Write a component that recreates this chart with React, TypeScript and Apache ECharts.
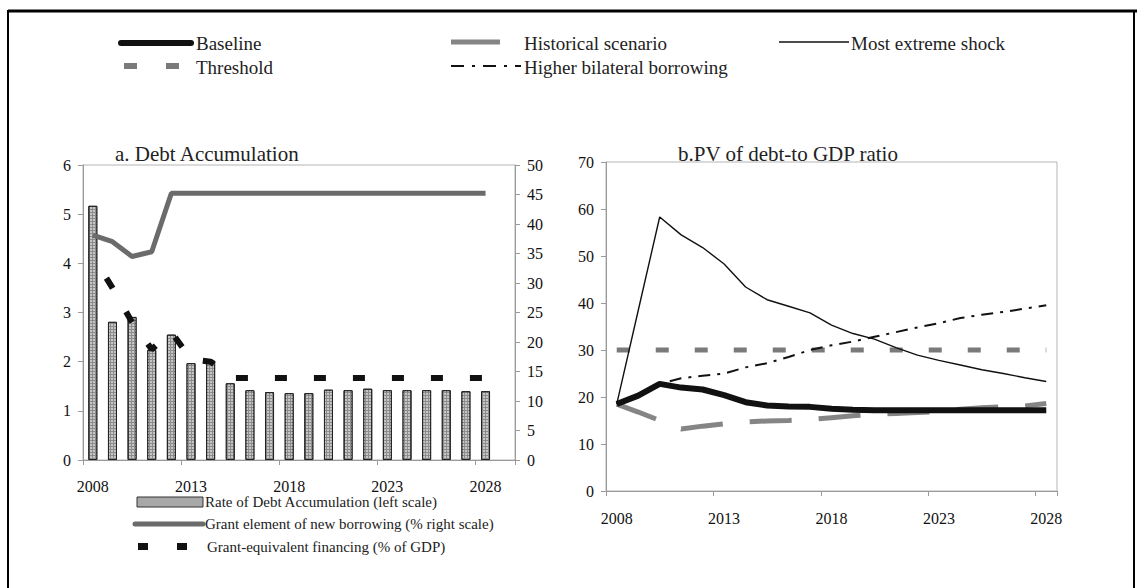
import React, { useEffect, useRef } from 'react';
import * as echarts from 'echarts';

// ---- data ----
const years = [
  '2008', '2009', '2010', '2011', '2012', '2013', '2014', '2015', '2016', '2017', '2018',
  '2019', '2020', '2021', '2022', '2023', '2024', '2025', '2026', '2027', '2028',
];
// panel a keeps one empty slot after the last year
const debtYears = [...years, ''];

// panel a: rate of debt accumulation (left scale, %)
const debtAccumulation = [
  5.17, 2.81, 2.91, 2.24, 2.55, 1.97, 2.02, 1.56, 1.42, 1.38, 1.36,
  1.36, 1.43, 1.42, 1.45, 1.42, 1.42, 1.42, 1.42, 1.40, 1.40,
];
// panel a: grant element of new borrowing (right scale, %)
const grantElement = [
  38.1, 37.0, 34.5, 35.3, 45.2, 45.2, 45.2, 45.2, 45.2, 45.2, 45.2,
  45.2, 45.2, 45.2, 45.2, 45.2, 45.2, 45.2, 45.2, 45.2, 45.2,
];
// panel a: grant-equivalent financing (% of GDP, left scale)
const grantEquivalent = [
  4.15, 3.5, 2.8, 2.25, 2.6, 2.05, 2.0, 1.67, 1.67, 1.67, 1.67,
  1.67, 1.67, 1.67, 1.67, 1.67, 1.67, 1.67, 1.67, 1.67, 1.67,
];

// panel b: PV of debt-to-GDP ratio
const baseline = [
  18.5, 20.3, 22.8, 22.0, 21.6, 20.4, 18.9, 18.2, 18.0, 17.9, 17.5,
  17.3, 17.2, 17.2, 17.2, 17.2, 17.2, 17.2, 17.2, 17.2, 17.2,
];
const historical = [
  18.5, 16.8, 15.0, 13.2, 13.8, 14.3, 14.7, 14.9, 15.0, 15.2, 15.6,
  16.0, 16.3, 16.5, 16.7, 16.9, 17.4, 17.7, 17.9, 18.1, 18.6,
];
const extremeShock = [
  18.5, 38.4, 58.3, 54.5, 51.8, 48.3, 43.4, 40.7, 39.3, 37.9, 35.3,
  33.5, 32.3, 30.5, 28.9, 27.8, 26.8, 25.8, 25.0, 24.1, 23.3,
];
const bilateral = [
  18.5, 20.3, 22.8, 24.0, 24.5, 25.0, 26.3, 27.2, 28.5, 30.0, 31.0,
  31.8, 32.8, 33.8, 34.8, 35.7, 36.8, 37.5, 38.1, 38.8, 39.5,
];
const threshold = [
  30, 30, 30, 30, 30, 30, 30, 30, 30, 30, 30,
  30, 30, 30, 30, 30, 30, 30, 30, 30, 30,
];

const leftTicks = { min: 0, max: 6, interval: 1 };
const rightTicks = { min: 0, max: 50, interval: 5 };
const pvTicks = { min: 0, max: 70, interval: 10 };

const FONT = "'Liberation Serif', 'Times New Roman', serif";
const AXIS_GRAY = '#9a9a9a';

function App() {
  const ref = useRef<HTMLDivElement>(null);

  useEffect(() => {
    document.body.style.margin = '0';
    const chart = echarts.init(ref.current!, null, { renderer: 'svg' });

    const labelStyle = { color: '#111', fontFamily: FONT, fontSize: 16 };
    const axisLine = { show: true, lineStyle: { color: AXIS_GRAY, width: 1 } };
    const axisTick = { show: true, length: 5, lineStyle: { color: AXIS_GRAY } };

    const legendText = (x: number, y: number, text: string, size = 19) => ({
      type: 'text',
      x,
      y,
      style: {
        text,
        fill: '#222',
        fontFamily: FONT,
        fontSize: size,
        verticalAlign: 'middle',
      },
    });

    const titleStyle = { fontFamily: FONT, fontSize: 21, fontWeight: 'normal', color: '#222' };

    chart.setOption({
      animation: false,
      backgroundColor: '#fff',
      title: [
        { text: 'a. Debt Accumulation', left: 110, top: 138, textStyle: titleStyle },
        { text: 'b.PV of debt-to GDP ratio', left: 673, top: 138, textStyle: titleStyle },
      ],
      grid: [
        { left: 83, top: 165, width: 432, height: 295, show: true, borderColor: '#b5b5b5', borderWidth: 1 },
        { left: 606, top: 162, width: 451, height: 329, show: true, borderColor: '#b5b5b5', borderWidth: 1 },
      ],
      xAxis: [
        {
          type: 'category',
          gridIndex: 0,
          data: debtYears,
          boundaryGap: true,
          axisLine,
          axisTick: { ...axisTick, interval: 4 },
          axisLabel: { ...labelStyle, interval: 4, margin: 18 },
          splitLine: { show: false },
        },
        {
          type: 'category',
          gridIndex: 1,
          data: years,
          boundaryGap: true,
          axisLine,
          axisTick: { ...axisTick, interval: 4 },
          axisLabel: { ...labelStyle, interval: 4, margin: 19 },
          splitLine: { show: false },
        },
      ],
      yAxis: [
        {
          type: 'value',
          gridIndex: 0,
          position: 'left',
          ...leftTicks,
          axisLine,
          axisTick,
          axisLabel: { ...labelStyle, margin: 12 },
          splitLine: { show: false },
        },
        {
          type: 'value',
          gridIndex: 0,
          position: 'right',
          ...rightTicks,
          axisLine,
          axisTick,
          axisLabel: { ...labelStyle, margin: 12 },
          splitLine: { show: false },
        },
        {
          type: 'value',
          gridIndex: 1,
          position: 'left',
          ...pvTicks,
          axisLine,
          axisTick,
          axisLabel: { ...labelStyle, margin: 12 },
          splitLine: { show: false },
        },
      ],
      series: [
        {
          name: 'Rate of Debt Accumulation (left scale)',
          type: 'bar',
          xAxisIndex: 0,
          yAxisIndex: 0,
          data: debtAccumulation,
          barWidth: 9,
          itemStyle: {
            color: '#8c8c8c',
            borderColor: '#222',
            borderWidth: 1,
            decal: {
              symbol: 'circle',
              symbolSize: 0.8,
              color: 'rgba(235,235,235,0.95)',
              dashArrayX: [2, 1],
              dashArrayY: [2, 1],
              rotation: 0,
            },
          },
          z: 2,
        },
        {
          name: 'Grant element of new borrowing (% right scale)',
          type: 'line',
          xAxisIndex: 0,
          yAxisIndex: 1,
          data: grantElement,
          symbol: 'none',
          lineStyle: { color: '#6b6b6b', width: 5 },
          z: 4,
        },
        {
          name: 'Grant-equivalent financing (% of GDP)',
          type: 'line',
          xAxisIndex: 0,
          yAxisIndex: 0,
          data: grantEquivalent,
          symbol: 'none',
          lineStyle: { color: '#111', width: 6, type: [12, 27], dashOffset: 13 },
          z: 5,
        },
        {
          name: 'Threshold',
          type: 'line',
          xAxisIndex: 1,
          yAxisIndex: 2,
          data: threshold,
          symbol: 'none',
          lineStyle: { color: '#7a7a7a', width: 5, type: [13, 26] },
          z: 2,
        },
        {
          name: 'Historical scenario',
          type: 'line',
          xAxisIndex: 1,
          yAxisIndex: 2,
          data: historical,
          symbol: 'none',
          lineStyle: { color: '#858585', width: 5, type: [42, 27] },
          z: 3,
        },
        {
          name: 'Higher bilateral borrowing',
          type: 'line',
          xAxisIndex: 1,
          yAxisIndex: 2,
          data: bilateral,
          symbol: 'none',
          lineStyle: { color: '#111', width: 2, type: [12, 7, 3, 7] },
          z: 3,
        },
        {
          name: 'Most extreme shock',
          type: 'line',
          xAxisIndex: 1,
          yAxisIndex: 2,
          data: extremeShock,
          symbol: 'none',
          lineStyle: { color: '#111', width: 1.4 },
          z: 4,
        },
        {
          name: 'Baseline',
          type: 'line',
          xAxisIndex: 1,
          yAxisIndex: 2,
          data: baseline,
          symbol: 'none',
          lineStyle: { color: '#111', width: 6 },
          z: 5,
        },
      ],
      graphic: [
        // page frame
        { type: 'line', shape: { x1: 8, y1: 11, x2: 1137, y2: 11 }, style: { stroke: '#000', lineWidth: 3 } },
        { type: 'line', shape: { x1: 8, y1: 10, x2: 8, y2: 588 }, style: { stroke: '#000', lineWidth: 2 } },
        { type: 'line', shape: { x1: 1134, y1: 10, x2: 1134, y2: 588 }, style: { stroke: '#000', lineWidth: 2 } },

        // legend for panel b (top)
        { type: 'line', shape: { x1: 121, y1: 43, x2: 191, y2: 43 }, style: { stroke: '#111', lineWidth: 6, lineCap: 'round' } },
        legendText(196, 43, 'Baseline'),
        { type: 'line', shape: { x1: 451, y1: 42, x2: 500, y2: 42 }, style: { stroke: '#858585', lineWidth: 5 } },
        legendText(524, 43, 'Historical scenario'),
        { type: 'line', shape: { x1: 779, y1: 42, x2: 849, y2: 42 }, style: { stroke: '#111', lineWidth: 1.5 } },
        legendText(851, 43, 'Most extreme shock'),

        { type: 'line', shape: { x1: 124, y1: 66, x2: 180, y2: 66 }, style: { stroke: '#7a7a7a', lineWidth: 6, lineDash: [13, 29] } },
        legendText(196, 67, 'Threshold'),
        { type: 'line', shape: { x1: 451, y1: 66, x2: 521, y2: 66 }, style: { stroke: '#111', lineWidth: 2, lineDash: [13, 8, 3, 8] } },
        legendText(524, 67, 'Higher bilateral borrowing'),

        // legend for panel a (below)
        { type: 'rect', shape: { x: 137, y: 497, width: 66, height: 10 }, style: { fill: '#a8a8a8', stroke: '#333', lineWidth: 1 } },
        legendText(205, 502, 'Rate of Debt Accumulation (left scale)', 15),
        { type: 'line', shape: { x1: 135, y1: 524, x2: 203, y2: 524 }, style: { stroke: '#6b6b6b', lineWidth: 5, lineCap: 'round' } },
        legendText(205, 524, 'Grant element of new borrowing (% right scale)', 15),
        { type: 'rect', shape: { x: 138, y: 543, width: 10, height: 7 }, style: { fill: '#111' } },
        { type: 'rect', shape: { x: 177, y: 543, width: 10, height: 7 }, style: { fill: '#111' } },
        legendText(207, 547, 'Grant-equivalent financing (% of GDP)', 15),
      ],
    });

    return () => chart.dispose();
  }, []);

  return <div ref={ref} style={{ width: 1137, height: 588 }} />;
}

export default App;
